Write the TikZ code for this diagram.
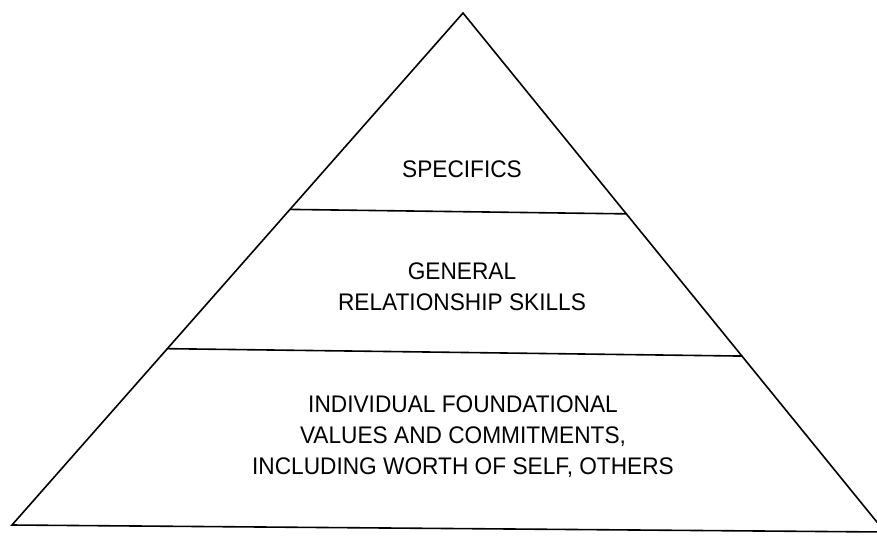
\documentclass[tikz,border=0pt]{standalone}
\usepackage{fontspec}
\setmainfont{Liberation Sans}[FakeStretch=0.945]
\usetikzlibrary{calc}
\begin{document}
\begin{tikzpicture}[x=1pt,y=-1pt,
  edge/.style={line width=1.6pt,line cap=round,line join=miter},
  tier/.style={align=center,font=\fontsize{24}{31}\selectfont,inner sep=0pt}]
\clip (0,0) rectangle (877,536);
\fill[white] (0,0) rectangle (877,536);
% corners of the pyramid
\coordinate (apex) at (463,13);
\coordinate (bl) at (12,525);
\coordinate (br) at (885,532);
% ends of the two dividing lines
\coordinate (d1l) at ($(apex)!0.3836!(bl)$);
\coordinate (d1r) at ($(apex)!0.387!(br)$);
\coordinate (d2l) at ($(apex)!0.6556!(bl)$);
\coordinate (d2r) at ($(apex)!0.661!(br)$);
% outline and tiers
\draw[edge] (bl) -- (apex) -- (br) -- cycle;
\draw[edge] (d1l) -- (d1r);
\draw[edge] (d2l) -- (d2r);
% labels
\node[tier] (top) at (462,169) {SPECIFICS};
\node[tier] (mid) at (462,287) {GENERAL\\RELATIONSHIP SKILLS};
\node[tier] (base) at (463,437) {INDIVIDUAL FOUNDATIONAL\\VALUES AND COMMITMENTS,\\INCLUDING WORTH OF SELF, OTHERS};
\end{tikzpicture}
\end{document}
